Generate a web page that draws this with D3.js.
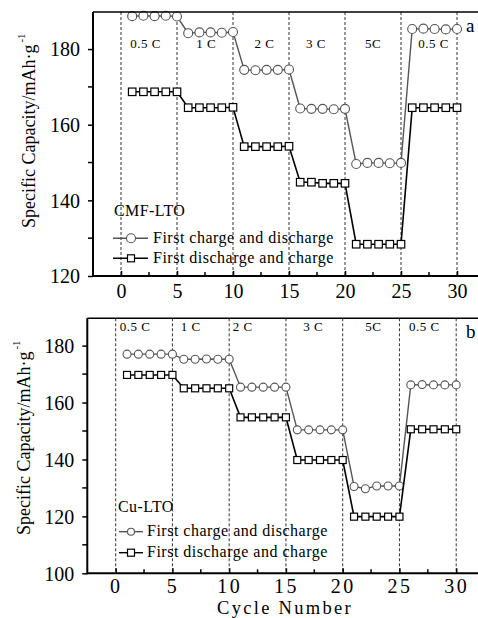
<!DOCTYPE html>
<html>
<head>
<meta charset="utf-8">
<script src="https://cdn.jsdelivr.net/npm/d3@7"></script>
<style>
  body { margin: 0; background: #fff; }
  svg, svg text { font-family: "Liberation Serif", "DejaVu Serif", serif; }
</style>
</head>
<body>
<div id="chart"></div>
<script>
// ---------------- data ----------------
const cycles = [1,2,3,4,5,6,7,8,9,10,11,12,13,14,15,16,17,18,19,20,21,22,23,24,25,26,27,28,29,30];

// panel a: CMF-LTO
const chargeA = [188.7,188.8,188.7,188.8,188.6, 184.2,184.4,184.4,184.3,184.5,
                 174.5,174.4,174.5,174.5,174.6, 164.3,164.2,164.2,164.1,164.2,
                 149.6,149.9,149.9,149.8,149.9, 185.3,185.4,185.3,185.2,185.3];
const dischargeA = [168.7,168.7,168.7,168.7,168.7, 164.5,164.5,164.5,164.5,164.6,
                    154.2,154.2,154.2,154.2,154.3, 144.8,144.8,144.5,144.5,144.5,
                    128.4,128.4,128.4,128.4,128.4, 164.5,164.5,164.5,164.5,164.5];

// panel b: Cu-LTO
const chargeB = [177.0,177.0,177.0,177.0,177.0, 175.2,175.2,175.3,175.2,175.2,
                 165.4,165.4,165.4,165.4,165.4, 150.4,150.4,150.4,150.4,150.4,
                 130.5,129.7,130.7,130.7,130.7, 166.2,166.3,166.2,166.2,166.2];
const dischargeB = [169.7,169.7,169.7,169.7,169.7, 165.0,165.0,165.0,165.0,165.0,
                    154.8,154.8,154.8,154.8,154.8, 139.8,139.8,139.8,139.8,139.8,
                    119.9,119.9,119.9,119.9,119.9, 150.6,150.6,150.6,150.6,150.6];

const rateLabels = ["0.5 C", "1 C", "2 C", "3 C", "5C", "0.5 C"];
const rateXA = [2.2, 7.6, 12.8, 17.4, 22.5, 27.9];
const rateXB = [1.7, 6.6, 11.2, 17.4, 22.7, 27.2];
const stepBounds = [0, 5, 10, 15, 20, 25, 30];
const xTicks = [0, 5, 10, 15, 20, 25, 30];
const xMinor = [2.5, 7.5, 12.5, 17.5, 22.5, 27.5];
const yTicksA = [120, 140, 160, 180];
const yMinorA = [130, 150, 170];
const yTicksB = [100, 120, 140, 160, 180];
const yMinorB = [110, 130, 150, 170];
const seriesNames = ["First charge and discharge", "First discharge and charge"];

// ---------------- drawing ----------------
const W = 478, H = 618;
const FONT = "'Liberation Serif', 'DejaVu Serif', serif";
const svg = d3.select("#chart").append("svg")
    .attr("width", W)
    .attr("height", H)
    .style("font-family", FONT);

function drawPanel(p) {
    const g = svg.append("g");
    const x = d3.scaleLinear().domain([-2.5, 32]).range([p.left, p.right]);
    const y = d3.scaleLinear().domain(p.yDomain).range([p.bottom, p.top]);

    // dashed step separators
    g.selectAll(".sep").data(stepBounds).enter().append("line")
        .attr("x1", d => x(d)).attr("x2", d => x(d))
        .attr("y1", p.top).attr("y2", p.bottom)
        .attr("stroke", "#333").attr("stroke-width", 1)
        .attr("stroke-dasharray", "3,2");

    // rate labels
    g.selectAll(".rate").data(rateLabels).enter().append("text")
        .attr("x", (d, i) => x(p.rateX[i]))
        .attr("y", p.rateY)
        .attr("text-anchor", "middle")
        .attr("font-size", 13)
        .attr("letter-spacing", 0.5)
        .text(d => d);

    const line = d3.line().x((d, i) => x(cycles[i])).y(d => y(d));

    // charge series (gray circles)
    g.append("path").datum(p.charge)
        .attr("d", line).attr("fill", "none")
        .attr("stroke", "#555").attr("stroke-width", 1.4);
    g.selectAll(".c").data(p.charge).enter().append("circle")
        .attr("cx", (d, i) => x(cycles[i])).attr("cy", d => y(d))
        .attr("r", p.r)
        .attr("fill", "#fff").attr("stroke", "#555").attr("stroke-width", 1.1);

    // discharge series (black squares)
    g.append("path").datum(p.discharge)
        .attr("d", line).attr("fill", "none")
        .attr("stroke", "#000").attr("stroke-width", 1.6);
    g.selectAll(".s").data(p.discharge).enter().append("rect")
        .attr("x", (d, i) => x(cycles[i]) - p.sq / 2)
        .attr("y", d => y(d) - p.sq / 2)
        .attr("width", p.sq).attr("height", p.sq)
        .attr("fill", "#fff").attr("stroke", "#000").attr("stroke-width", 1.2);

    // axes
    const yAxis = d3.axisLeft(y).tickValues(p.yTicks).tickSize(5).tickFormat(d3.format("d"));
    const gy = g.append("g").attr("transform", `translate(${p.left},0)`).call(yAxis)
        .attr("font-family", null);
    gy.select(".domain").remove();
    gy.selectAll(".tick line").attr("stroke-width", 1.5);
    gy.selectAll(".tick text")
        .style("font-family", FONT)
        .attr("font-size", 20).attr("fill", "#000")
        .attr("dx", -5).attr("dy", "0.34em");
    g.selectAll(".ym").data(p.yMinor).enter().append("line")
        .attr("x1", p.left - 5).attr("x2", p.left)
        .attr("y1", d => y(d)).attr("y2", d => y(d))
        .attr("stroke", "#000").attr("stroke-width", 1.5);

    const xAxis = d3.axisBottom(x).tickValues(xTicks).tickSize(-5).tickFormat(d3.format("d"));
    const gx = g.append("g").attr("transform", `translate(0,${p.bottom})`).call(xAxis)
        .attr("font-family", null);
    gx.select(".domain").remove();
    gx.selectAll(".tick line").attr("stroke-width", 1.5);
    gx.selectAll(".tick text")
        .style("font-family", FONT)
        .attr("font-size", 20).attr("fill", "#000")
        .attr("letter-spacing", p.xTickSpacing)
        .attr("y", p.xTickY).attr("dy", "0.71em");
    g.selectAll(".xm").data(xMinor).enter().append("line")
        .attr("x1", d => x(d)).attr("x2", d => x(d))
        .attr("y1", p.bottom - 4).attr("y2", p.bottom)
        .attr("stroke", "#000").attr("stroke-width", 1.5);

    // frame lines
    g.append("line").attr("x1", p.left).attr("x2", W)
        .attr("y1", p.top).attr("y2", p.top)
        .attr("stroke", "#000").attr("stroke-width", 1.5);
    g.append("line").attr("x1", p.left).attr("x2", W)
        .attr("y1", p.bottom).attr("y2", p.bottom)
        .attr("stroke", "#000").attr("stroke-width", 2);
    g.append("line").attr("x1", p.left).attr("x2", p.left)
        .attr("y1", p.top).attr("y2", p.bottom + 1)
        .attr("stroke", "#000").attr("stroke-width", 2);

    // y title
    const yt = g.append("text")
        .attr("transform", `translate(${p.ytX},${p.ytY}) rotate(-90)`)
        .attr("font-size", 18);
    yt.append("tspan").text("Specific Capacity/mAh·g");
    yt.append("tspan").attr("dy", -10).attr("dx", 2).attr("font-size", 11).text("-1");

    // panel letter
    g.append("text").attr("x", 466).attr("y", p.letterY)
        .attr("font-size", 19).text(p.letter);

    // legend
    const lg = g.append("g");
    lg.append("text").attr("x", p.lg.titleX).attr("y", p.lg.titleY)
        .attr("font-size", 16).attr("letter-spacing", 0.4).text(p.name);
    [0, 1].forEach(k => {
        const ly = p.lg.rows[k];
        lg.append("line")
            .attr("x1", p.lg.x1).attr("x2", p.lg.x2)
            .attr("y1", ly).attr("y2", ly)
            .attr("stroke", k === 0 ? "#555" : "#000").attr("stroke-width", 1.4);
        if (k === 0) {
            lg.append("circle").attr("cx", p.lg.mx).attr("cy", ly).attr("r", p.lg.r)
                .attr("fill", "#fff").attr("stroke", "#555").attr("stroke-width", 1.1);
        } else {
            lg.append("rect")
                .attr("x", p.lg.mx - p.lg.sq / 2).attr("y", ly - p.lg.sq / 2)
                .attr("width", p.lg.sq).attr("height", p.lg.sq)
                .attr("fill", "#fff").attr("stroke", "#000").attr("stroke-width", 1.2);
        }
        lg.append("text").attr("x", p.lg.textX).attr("y", ly + 4.5)
            .attr("font-size", 16).attr("letter-spacing", 0.5)
            .text(seriesNames[k]);
    });
}

drawPanel({
    name: "CMF-LTO", letter: "a", letterY: 32,
    left: 93, right: 479.4, top: 12, bottom: 276,
    yDomain: [120, 189.8], yTicks: yTicksA, yMinor: yMinorA,
    charge: chargeA, discharge: dischargeA,
    rateX: rateXA, rateY: 48, r: 4.5, sq: 7.5, xTickSpacing: 0, xTickY: 8,
    ytX: 35, ytY: 228,
    lg: { titleX: 114, titleY: 216, rows: [238.3, 258.3], x1: 113, x2: 148, mx: 131, r: 4.5, sq: 7, textX: 153 }
});

drawPanel({
    name: "Cu-LTO", letter: "b", letterY: 338,
    left: 87.3, right: 478.9, top: 318.3, bottom: 573.3,
    yDomain: [100, 189.6], yTicks: yTicksB, yMinor: yMinorB,
    charge: chargeB, discharge: dischargeB,
    rateX: rateXB, rateY: 331, r: 4, sq: 7, xTickSpacing: 2.5, xTickY: 6,
    ytX: 30, ytY: 535,
    lg: { titleX: 118, titleY: 512, rows: [531.7, 552.7], x1: 119, x2: 143, mx: 131, r: 3.5, sq: 7, textX: 147 }
});

// x title
svg.append("text")
    .attr("x", 285).attr("y", 613.5)
    .attr("text-anchor", "middle")
    .attr("font-size", 18.5).attr("letter-spacing", 2.3)
    .text("Cycle Number");
</script>
</body>
</html>
